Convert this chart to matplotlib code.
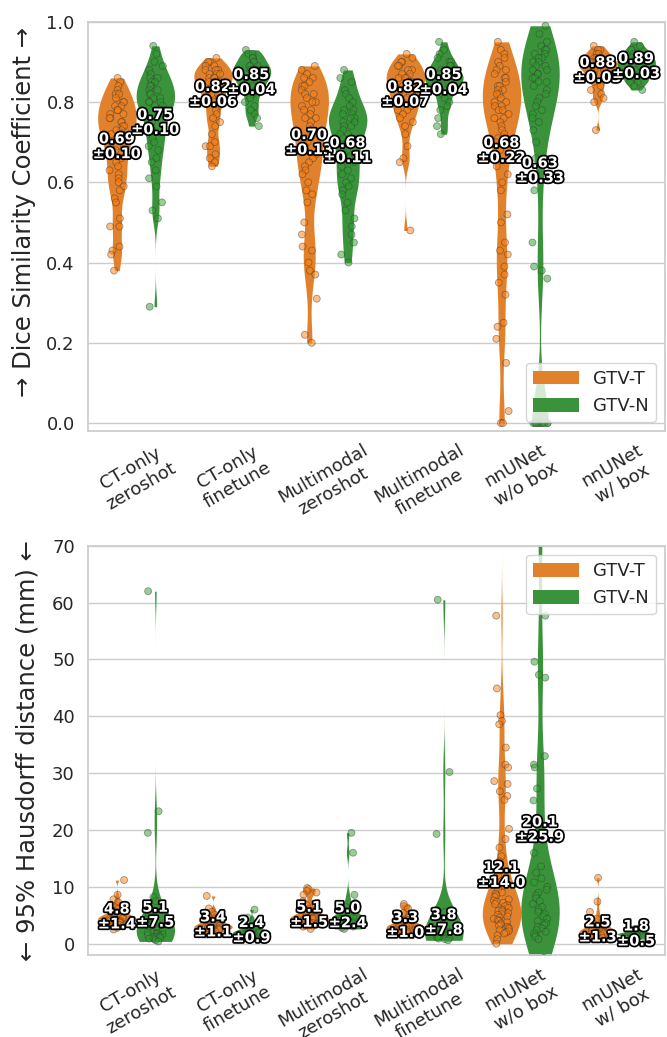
import numpy as np
import pandas as pd
import matplotlib
matplotlib.use("Agg")
import matplotlib.pyplot as plt
import matplotlib.patheffects as pe
import seaborn as sns

np.random.seed(0)

methods = ["CT-only\nzeroshot", "CT-only\nfinetune", "Multimodal\nzeroshot",
           "Multimodal\nfinetune", "nnUNet\nw/o box", "nnUNet\nw/ box"]
structures = ["GTV-T", "GTV-N"]

# Dice, GTV-T
dice_t = [
    [0.86, 0.85, 0.84, 0.83, 0.82, 0.82, 0.81, 0.80, 0.80, 0.79, 0.79, 0.78, 0.78, 0.77, 0.77,
     0.76, 0.76, 0.75, 0.75, 0.74, 0.74, 0.73, 0.73, 0.72, 0.72, 0.71, 0.70, 0.70, 0.69, 0.68,
     0.67, 0.66, 0.65, 0.64, 0.63, 0.62, 0.61, 0.60, 0.59, 0.58, 0.56, 0.55, 0.51, 0.49, 0.49,
     0.44, 0.43, 0.42, 0.38],
    [0.91, 0.90, 0.90, 0.89, 0.89, 0.88, 0.88, 0.88, 0.87, 0.87, 0.87, 0.86, 0.86, 0.86, 0.85,
     0.85, 0.85, 0.84, 0.84, 0.83, 0.83, 0.82, 0.82, 0.81, 0.80, 0.79, 0.78, 0.77, 0.76, 0.75,
     0.74, 0.72, 0.70, 0.69, 0.69, 0.67, 0.66, 0.65, 0.64],
    [0.89, 0.88, 0.87, 0.86, 0.86, 0.85, 0.84, 0.84, 0.83, 0.82, 0.82, 0.81, 0.80, 0.80, 0.79,
     0.78, 0.78, 0.77, 0.76, 0.76, 0.75, 0.74, 0.73, 0.72, 0.71, 0.70, 0.69, 0.68, 0.67, 0.66,
     0.65, 0.64, 0.63, 0.62, 0.60, 0.58, 0.57, 0.55, 0.50, 0.47, 0.44, 0.43, 0.40, 0.38, 0.37,
     0.31, 0.22, 0.20],
    [0.92, 0.91, 0.90, 0.90, 0.89, 0.89, 0.88, 0.88, 0.87, 0.87, 0.86, 0.86, 0.86, 0.85, 0.85,
     0.84, 0.84, 0.83, 0.83, 0.82, 0.82, 0.81, 0.80, 0.80, 0.79, 0.78, 0.78, 0.77, 0.76, 0.75,
     0.74, 0.72, 0.69, 0.66, 0.65, 0.48],
    [0.95, 0.93, 0.92, 0.91, 0.90, 0.89, 0.88, 0.88, 0.87, 0.86, 0.86, 0.85, 0.84, 0.84, 0.83,
     0.83, 0.82, 0.82, 0.81, 0.80, 0.80, 0.79, 0.79, 0.78, 0.78, 0.77, 0.76, 0.76, 0.75, 0.74,
     0.73, 0.72, 0.71, 0.70, 0.68, 0.66, 0.64, 0.62, 0.60, 0.58, 0.52, 0.50, 0.45, 0.43, 0.42,
     0.39, 0.37, 0.35, 0.32, 0.25, 0.24, 0.21, 0.15, 0.03, 0.0, 0.0],
    [0.94, 0.93, 0.93, 0.92, 0.92, 0.91, 0.91, 0.91, 0.90, 0.90, 0.90, 0.90, 0.89, 0.89, 0.89,
     0.89, 0.88, 0.88, 0.88, 0.87, 0.87, 0.86, 0.86, 0.85, 0.84, 0.83, 0.82, 0.81, 0.80, 0.73],
]

# Dice, GTV-N
dice_n = [
    [0.94, 0.92, 0.90, 0.89, 0.88, 0.87, 0.86, 0.86, 0.85, 0.85, 0.84, 0.84, 0.83, 0.83, 0.82,
     0.82, 0.81, 0.81, 0.80, 0.80, 0.80, 0.79, 0.79, 0.78, 0.78, 0.77, 0.76, 0.75, 0.74, 0.73,
     0.72, 0.71, 0.70, 0.69, 0.68, 0.66, 0.65, 0.63, 0.61, 0.59, 0.55, 0.53, 0.51, 0.29],
    [0.93, 0.92, 0.92, 0.91, 0.91, 0.90, 0.90, 0.89, 0.89, 0.89, 0.88, 0.88, 0.88, 0.87, 0.87,
     0.87, 0.86, 0.86, 0.86, 0.85, 0.85, 0.84, 0.84, 0.83, 0.83, 0.82, 0.81, 0.80, 0.79, 0.78,
     0.77, 0.76, 0.74],
    [0.88, 0.86, 0.85, 0.83, 0.82, 0.81, 0.80, 0.79, 0.78, 0.78, 0.77, 0.77, 0.76, 0.76, 0.75,
     0.75, 0.74, 0.74, 0.73, 0.72, 0.72, 0.71, 0.70, 0.69, 0.68, 0.67, 0.66, 0.65, 0.64, 0.63,
     0.62, 0.61, 0.60, 0.59, 0.58, 0.57, 0.55, 0.53, 0.51, 0.49, 0.47, 0.45, 0.42, 0.40],
    [0.95, 0.93, 0.92, 0.91, 0.90, 0.90, 0.89, 0.89, 0.88, 0.88, 0.87, 0.87, 0.87, 0.86, 0.86,
     0.86, 0.85, 0.85, 0.85, 0.84, 0.84, 0.83, 0.83, 0.82, 0.81, 0.80, 0.79, 0.78, 0.76, 0.74,
     0.72],
    [0.99, 0.97, 0.95, 0.94, 0.93, 0.93, 0.92, 0.92, 0.91, 0.91, 0.90, 0.90, 0.89, 0.89, 0.88,
     0.88, 0.87, 0.87, 0.86, 0.86, 0.85, 0.85, 0.84, 0.83, 0.82, 0.81, 0.80, 0.79, 0.78, 0.77,
     0.76, 0.75, 0.73, 0.70, 0.66, 0.62, 0.58, 0.45, 0.39, 0.38, 0.36,
     0.0, 0.0, 0.0, 0.0, 0.0, 0.0, 0.0, 0.0, 0.0, 0.0, 0.0],
    [0.95, 0.94, 0.93, 0.93, 0.92, 0.92, 0.91, 0.91, 0.91, 0.90, 0.90, 0.90, 0.89, 0.89, 0.89,
     0.88, 0.88, 0.88, 0.87, 0.87, 0.86, 0.86, 0.85, 0.85, 0.84, 0.83],
]

# HD95 (mm), GTV-T
hd_t = [
    [11.2, 8.6, 7.8, 7.3, 6.8, 6.4, 6.1, 5.8, 5.6, 5.4, 5.2, 5.1, 5.0, 4.9, 4.8, 4.7, 4.6, 4.5,
     4.5, 4.4, 4.3, 4.3, 4.2, 4.1, 4.0, 3.9, 3.8, 3.7, 3.6, 3.5, 3.3, 3.1, 2.8, 2.5],
    [8.4, 6.2, 5.6, 5.1, 4.7, 4.4, 4.2, 4.0, 3.8, 3.7, 3.6, 3.5, 3.4, 3.3, 3.2, 3.1, 3.0, 3.0,
     2.9, 2.8, 2.8, 2.7, 2.6, 2.5, 2.4, 2.3, 2.1, 1.9, 1.6],
    [9.8, 9.6, 9.3, 9.0, 8.6, 7.5, 6.8, 6.2, 5.8, 5.5, 5.3, 5.1, 5.0, 4.9, 4.8, 4.7, 4.6, 4.5,
     4.4, 4.3, 4.2, 4.1, 4.0, 3.9, 3.8, 3.6, 3.4, 3.2, 3.0, 2.6],
    [7.0, 6.6, 6.2, 5.4, 4.6, 4.2, 3.9, 3.7, 3.5, 3.4, 3.3, 3.2, 3.1, 3.0, 2.9, 2.8, 2.7, 2.6,
     2.5, 2.4, 2.3, 2.2, 2.0, 1.8, 1.5],
    [95.0, 57.7, 44.9, 40.2, 39.2, 38.6, 34.5, 31.5, 31.0, 28.6, 28.1, 26.8, 26.0, 25.3, 20.2,
     18.4, 16.9, 15.4, 14.5, 13.0, 12.0, 11.0, 10.2, 9.5, 9.0, 8.8, 8.5, 8.2, 7.8, 7.6, 7.4,
     7.2, 7.0, 6.8, 6.6, 6.3, 6.0, 5.8, 5.7, 5.4, 5.2, 5.1, 4.8, 4.6, 4.4, 4.2, 4.0, 3.8, 3.6,
     3.4, 3.2, 3.0, 2.8, 2.6, 2.4, 2.2, 2.0, 1.8, 1.5, 0.8, 0.0],
    [11.6, 7.4, 5.6, 4.4, 3.9, 3.5, 3.2, 3.0, 2.8, 2.6, 2.5, 2.4, 2.3, 2.2, 2.1, 2.0, 1.9, 1.8,
     1.7, 1.6, 1.5, 1.4, 1.3, 1.2, 1.0, 0.8],
]

# HD95 (mm), GTV-N
hd_n = [
    [62.0, 23.3, 19.5, 8.2, 7.5, 6.0, 5.2, 4.8, 4.4, 4.0, 3.7, 3.5, 3.2, 3.0, 2.8, 2.6,
     2.4, 2.2, 2.0, 1.9, 1.8, 1.7, 1.6, 1.5, 1.4, 1.3, 1.2, 1.1, 1.0, 0.9, 0.8, 0.6, 0.4],
    [6.0, 4.6, 4.0, 3.5, 3.2, 3.0, 2.8, 2.6, 2.5, 2.4, 2.3, 2.2, 2.1, 2.0, 2.0, 1.9, 1.8, 1.8,
     1.7, 1.6, 1.5, 1.4, 1.3, 1.1, 0.9],
    [19.5, 16.0, 8.6, 7.2, 6.4, 5.8, 5.4, 5.1, 4.8, 4.6, 4.4, 4.2, 4.0, 3.9, 3.8, 3.7, 3.6,
     3.5, 3.4, 3.3, 3.2, 3.1, 3.0, 2.8, 2.6],
    [60.5, 30.2, 19.3, 5.6, 4.5, 3.8, 3.2, 2.8, 2.5, 2.3, 2.1, 1.9, 1.8, 1.7, 1.6, 1.5,
     1.4, 1.3, 1.2, 1.1, 1.0, 0.9, 0.8, 0.6],
    [95.0, 85.0, 78.0, 72.0, 66.0, 57.7, 49.6, 47.3, 46.8, 33.0, 31.5, 31.0, 27.3, 25.2, 20.0,
     16.0, 13.6, 12.5, 11.5, 10.8, 10.0, 9.5, 9.0, 8.5, 8.0, 7.5, 7.0, 6.5, 6.0, 5.6, 5.2, 4.8,
     4.4, 4.0, 3.6, 3.3, 3.0, 2.7, 2.4, 2.1, 1.8, 1.5, 1.2, 0.8, -2.5],
    [3.3, 2.8, 2.6, 2.4, 2.3, 2.2, 2.1, 2.0, 1.9, 1.9, 1.8, 1.8, 1.7, 1.7, 1.6, 1.6, 1.5, 1.5,
     1.4, 1.3, 1.2, 1.0, 0.8],
]

# mean / std shown on the plot
dice_mean_t = [0.69, 0.82, 0.70, 0.82, 0.68, 0.88]
dice_std_t = [0.10, 0.06, 0.13, 0.07, 0.22, 0.03]
dice_mean_n = [0.75, 0.85, 0.68, 0.85, 0.63, 0.89]
dice_std_n = [0.10, 0.04, 0.11, 0.04, 0.33, 0.03]
hd_mean_t = [4.8, 3.4, 5.1, 3.3, 12.1, 2.5]
hd_std_t = [1.4, 1.1, 1.5, 1.0, 14.0, 1.3]
hd_mean_n = [5.1, 2.4, 5.0, 3.8, 20.1, 1.8]
hd_std_n = [7.5, 0.9, 2.4, 7.8, 25.9, 0.5]


def to_df(t_lists, n_lists):
    rows = []
    for m, vals in zip(methods, t_lists):
        rows += [(m, "GTV-T", v) for v in vals]
    for m, vals in zip(methods, n_lists):
        rows += [(m, "GTV-N", v) for v in vals]
    return pd.DataFrame(rows, columns=["method", "structure", "value"])


sns.set_theme(style="whitegrid")
palette = ["tab:orange", "tab:green"]

fig, axes = plt.subplots(2, 1, figsize=(6.67, 10.37), dpi=100)
fig.subplots_adjust(left=0.132, right=0.997, top=0.979, bottom=0.079, hspace=0.28)

panels = [
    (to_df(dice_t, dice_n), dice_mean_t, dice_std_t, dice_mean_n, dice_std_n,
     "\u2192 Dice Similarity Coefficient \u2192", (-0.02, 1.0), np.arange(0, 1.01, 0.2),
     "{:.2f}", "lower right", (-0.09, 0.535)),
    (to_df(hd_t, hd_n), hd_mean_t, hd_std_t, hd_mean_n, hd_std_n,
     "\u2190 95% Hausdorff distance (mm) \u2190", (-2, 70), np.arange(0, 71, 10),
     "{:.1f}", "upper right", (-0.085, 0.5)),
]

for ax, (df, mt, st, mn, sn, ylabel, ylim, yticks, fmt, loc, lab_xy) in zip(axes, panels):
    sns.violinplot(data=df, x="method", y="value", hue="structure", order=methods,
                   hue_order=structures, palette=palette, cut=0, inner=None,
                   density_norm="width", bw_adjust=0.5, linewidth=0, ax=ax)
    sns.stripplot(data=df, x="method", y="value", hue="structure", order=methods,
                  hue_order=structures, palette=palette, dodge=True, jitter=0.16,
                  size=5, alpha=0.5, linewidth=0.6, edgecolor="gray", legend=False, ax=ax)

    # mean +- std labels
    for i in range(len(methods)):
        for off, mu, sd in [(-0.2, mt[i], st[i]), (0.2, mn[i], sn[i])]:
            ax.text(i + off, mu, fmt.format(mu) + "\n\u00b1" + fmt.format(sd),
                    ha="center", va="center", fontsize=10.5, fontweight="bold",
                    color="white", linespacing=1.0, zorder=10,
                    path_effects=[pe.withStroke(linewidth=2.5, foreground="black")])

    ax.set_ylim(*ylim)
    ax.set_yticks(yticks)
    ax.set_ylabel(ylabel, fontsize=17.5)
    ax.yaxis.set_label_coords(*lab_xy)
    ax.set_xlabel("")
    ax.set_xlim(-0.5, 5.5)
    ax.tick_params(axis="y", labelsize=13)
    ax.tick_params(axis="x", labelsize=13, rotation=30, pad=1)
    handles, labels = ax.get_legend_handles_labels()
    ax.legend(handles[:2], labels[:2], loc=loc, fontsize=13, handlelength=2.5,
              handleheight=0.8, title=None)

plt.savefig("out.png", dpi=100)
